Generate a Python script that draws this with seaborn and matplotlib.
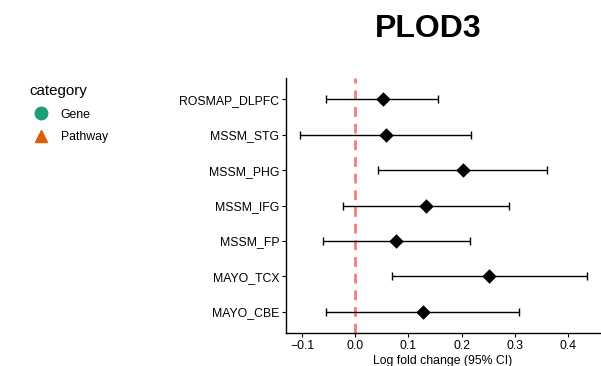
import matplotlib.pyplot as plt
import seaborn as sns
import pandas as pd
from matplotlib.lines import Line2D

datasets = ["ROSMAP_DLPFC", "MSSM_STG", "MSSM_PHG", "MSSM_IFG", "MSSM_FP", "MAYO_TCX", "MAYO_CBE"]
logfc = [0.052, 0.058, 0.202, 0.133, 0.077, 0.252, 0.127]
ci_low = [-0.054, -0.103, 0.042, -0.023, -0.061, 0.070, -0.055]
ci_high = [0.156, 0.218, 0.361, 0.290, 0.216, 0.435, 0.308]
x_ticks = [-0.1, 0.0, 0.1, 0.2, 0.3, 0.4]

df = pd.DataFrame({"dataset": datasets, "logFC": logfc, "low": ci_low, "high": ci_high})

sns.set_theme(style="ticks")
plt.rcParams["font.family"] = ["Liberation Sans", "DejaVu Sans"]
plt.rcParams.update({"text.color": "black", "axes.labelcolor": "black",
                     "xtick.color": "black", "ytick.color": "black"})

fig = plt.figure(figsize=(6.01, 3.66), dpi=100)
ax = fig.add_axes([0.476, 0.090, 0.522, 0.697])

# reference line at zero
ax.axvline(0, color="#f47c7c", lw=2, ls=(0, (3.5, 2.5)), zorder=1)

# confidence intervals
ax.errorbar(df["logFC"], df["dataset"],
            xerr=[df["logFC"] - df["low"], df["high"] - df["logFC"]],
            fmt="none", ecolor="black", elinewidth=1, capsize=2.6, capthick=1, zorder=2)

sns.scatterplot(data=df, x="logFC", y="dataset", marker="D", s=55, color="black",
                edgecolor="black", linewidth=0, ax=ax, zorder=3, legend=False)

ax.set_ylim(len(datasets) - 0.4, -0.6)
ax.set_xlim(-0.13, 0.46)
ax.set_xticks(x_ticks)
ax.set_xticklabels(["\u22120.1", "0.0", "0.1", "0.2", "0.3", "0.4"])
ax.set_xlabel("Log fold change (95% CI)", fontsize=8.8, labelpad=2)
ax.set_ylabel("")
ax.tick_params(axis="both", labelsize=8.8, length=3, width=0.8, pad=2)
sns.despine(ax=ax)
for s in ["left", "bottom"]:
    ax.spines[s].set_linewidth(1)
    ax.spines[s].set_color("black")

fig.text(0.713, 0.92, "PLOD3", fontsize=23, fontweight="bold", ha="center", va="center",
         color="black")

# legend for category
handles = [Line2D([], [], marker="o", ls="", color="#1b9e77", markersize=9),
           Line2D([], [], marker="^", ls="", color="#d95f02", markersize=9)]
fig.legend(handles, ["Gene", "Pathway"], title="category", loc="upper left",
           bbox_to_anchor=(0.03, 0.8), frameon=False, fontsize=8.8, title_fontsize=10.9,
           handletextpad=0.6, labelspacing=0.85, alignment="left")

fig.savefig("out.png", dpi=100)
